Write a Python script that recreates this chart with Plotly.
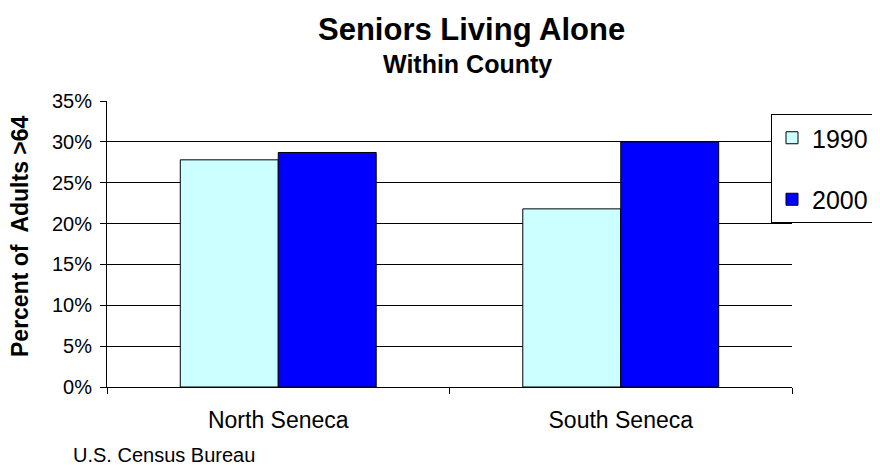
import plotly.graph_objects as go

# data
categories = ["North Seneca", "South Seneca"]
years = ["1990", "2000"]
values_1990 = [27.8, 21.8]
values_2000 = [28.7, 30.0]
y_ticks = [0, 5, 10, 15, 20, 25, 30, 35]
y_tick_labels = [f"{v}%" for v in y_ticks]

COLORS = {"1990": "#CCFFFF", "2000": "#0000FF"}
FONT = "Liberation Sans, Arial, sans-serif"

# the page body adds an 8px margin, so the figure is drawn 8px smaller
# and every pixel position below is given in window coordinates
OFF = 8
W, H = 880 - OFF, 465 - OFF
PL, PR, PT, PB = 107 - OFF, 880 - 792, 101 - OFF, 465 - 387
PW, PH = W - PL - PR, H - PT - PB


def px(x):
    return (x - OFF - PL) / PW


def py(y):
    return (H - PB - (y - OFF)) / PH


fig = go.Figure()
for yr, vals in zip(years, [values_1990, values_2000]):
    fig.add_trace(go.Bar(
        x=categories, y=vals, name=yr, legendgroup=yr,
        marker=dict(color=COLORS[yr], line=dict(color="black", width=1)),
    ))

fig.update_layout(
    width=W, height=H,
    margin=dict(l=PL, r=PR, t=PT, b=PB, autoexpand=False),
    paper_bgcolor="white", plot_bgcolor="white",
    font=dict(family=FONT, size=20, color="black"),
    barmode="group", bargap=0.428, bargroupgap=0,
    showlegend=True,
    legend=dict(
        x=px(771), y=py(114), xanchor="left", yanchor="top",
        bordercolor="black", borderwidth=1, bgcolor="white",
        font=dict(family=FONT, size=25),
        tracegroupgap=26, itemwidth=30,
    ),
    xaxis=dict(
        showline=True, linecolor="black", linewidth=1,
        ticks="outside", tickson="boundaries", ticklen=6, tickcolor="black",
        tickfont=dict(size=23), ticklabelstandoff=12, showgrid=False,
    ),
    yaxis=dict(
        range=[0, 35], tickvals=y_ticks, ticktext=y_tick_labels,
        showline=True, linecolor="black", linewidth=1,
        ticks="outside", ticklen=6, tickcolor="black",
        showgrid=True, gridcolor="black", gridwidth=1,
        tickfont=dict(size=20), ticklabelstandoff=4,
    ),
    annotations=[
        dict(text="<b>Seniors Living Alone</b>", x=px(471), y=py(30),
             xanchor="center", yanchor="middle", font=dict(size=31)),
        dict(text="<b>Within County</b>", x=px(467), y=py(64),
             xanchor="center", yanchor="middle", font=dict(size=25)),
        dict(text="<b>Percent of  Adults >64</b>", x=px(20), y=py(236), textangle=-90,
             xanchor="center", yanchor="middle", font=dict(size=23)),
        dict(text="U.S. Census Bureau", x=px(71), y=py(455),
             xanchor="left", yanchor="middle", font=dict(size=20)),
    ],
)
for a in fig.layout.annotations:
    a.update(xref="paper", yref="paper", showarrow=False)

fig.write_html("out.html")
